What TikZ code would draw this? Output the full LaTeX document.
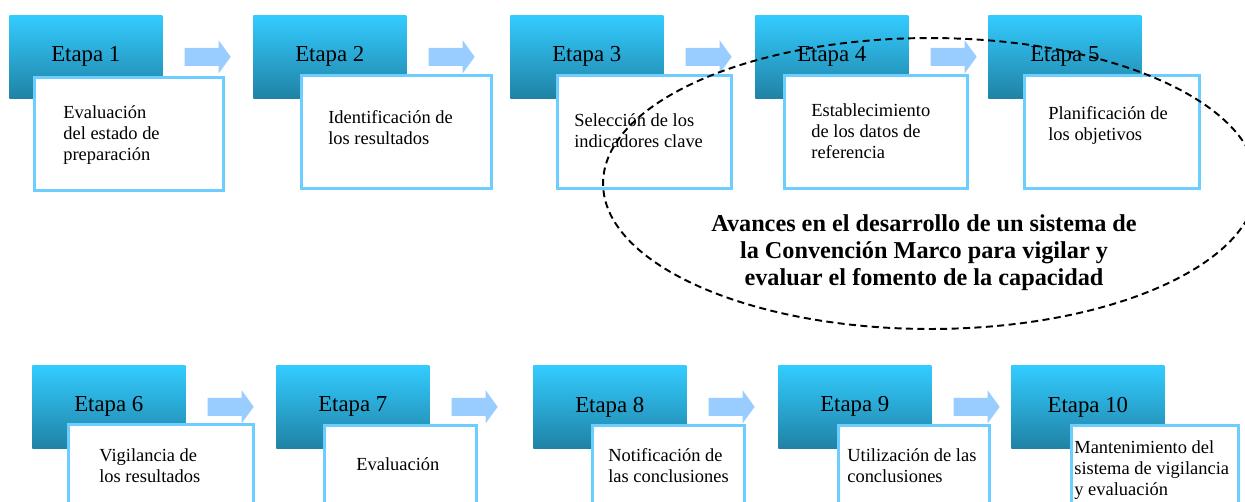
\documentclass[tikz,border=0pt]{standalone}
\usepackage{fontspec}
\setmainfont{Liberation Serif}
\usepackage{tikz}
\usetikzlibrary{positioning}
\usetikzlibrary{shapes.geometric}
\definecolor{cielo}{RGB}{51,204,255}
\definecolor{petroleo}{RGB}{32,130,165}
\definecolor{borde}{RGB}{110,205,255}
\definecolor{flechaazul}{RGB}{153,204,255}
\tikzset{etapa/.style = {anchor = north west, top color = cielo, bottom color = petroleo, minimum width = 3.06cm, minimum height = 1.66cm, inner sep = 0, font = \fontsize{13}{15}\selectfont}}
\tikzset{caja/.style = {anchor = north west, draw = borde, line width = 1.5pt, fill = white, minimum height = 2.26cm, inner sep = 0}}
\tikzset{texto/.style = {anchor = north west, align = left, inner sep = 0, font = \fontsize{10.5}{12.1}\selectfont}}
\tikzset{flecha/.pic = {\fill[flechaazul] (0, -9) -- (34, -9) -- (34, -16.5) -- (46, 0) -- (34, 16.5) -- (34, 9) -- (0, 9) -- cycle;}}

\begin{document}
\begin{tikzpicture}[x = 0.02cm, y = -0.02cm]
      \useasboundingbox (0, 0) rectangle (1245, 501);

      % fila de arriba
      \node[etapa] (e1) at (9, 15) {Etapa 1};
      \node[etapa] (e2) at (253, 15) {Etapa 2};
      \node[etapa] (e3) at (510, 15) {Etapa 3};
      \node[etapa] (e4) at (755, 15) {Etapa 4};
      \node[etapa] (e5) at (988, 15) {Etapa 5};

      \node[caja, minimum width = 3.78cm] (c1) at (33, 76) {};
      \node[caja, minimum width = 3.80cm] (c2) at (300, 74) {};
      \node[caja, minimum width = 3.48cm] (c3) at (556, 74) {};
      \node[caja, minimum width = 3.66cm] (c4) at (783, 74) {};
      \node[caja, minimum width = 3.50cm] (c5) at (1023, 74) {};

      \node[texto] (t1) at (63, 105) {Evaluación\\del estado de\\preparación};
      \node[texto] (t2) at (328, 110) {Identificación de\\los resultados};
      \node[texto] (t3) at (574, 113) {Selección de los\\indicadores clave};
      \node[texto] (t4) at (811, 103) {Establecimiento\\de los datos de\\referencia};
      \node[texto] (t5) at (1048, 106) {Planificación de\\los objetivos};

      % fila de abajo
      \node[etapa] (e6) at (32, 365) {Etapa 6};
      \node[etapa] (e7) at (276, 365) {Etapa 7};
      \node[etapa] (e8) at (533, 365) {Etapa 8};
      \node[etapa] (e9) at (778, 365) {Etapa 9};
      \node[etapa] (e10) at (1011, 365) {Etapa 10};

      \node[caja, minimum width = 3.70cm] (c6) at (67, 423) {};
      \node[caja, minimum width = 3.04cm] (c7) at (323, 424) {};
      \node[caja, minimum width = 3.04cm] (c8) at (591, 424) {};
      \node[caja, minimum width = 3.02cm] (c9) at (837, 424) {};
      \node[caja, minimum width = 3.34cm] (c10) at (1070, 424) {};

      \node[texto] (t6) at (99, 448) {Vigilancia de\\los resultados};
      \node[texto] (t7) at (356, 457) {Evaluación};
      \node[texto] (t8) at (608, 448) {Notificación de\\las conclusiones};
      \node[texto] (t9) at (847, 448) {Utilización de las\\conclusiones};
      \node[texto] (t10) at (1074, 440) {Mantenimiento del\\sistema de vigilancia\\y evaluación};

      \foreach \i in {1, 2, 3, 4, 6, 7, 8, 9}
        \pic at ([xshift = 0.44cm] e\i.east) {flecha};

      % elipse
      \node[draw, ellipse, line width = 1.1pt, dash pattern = on 4pt off 2.5pt, minimum width = 13.08cm, minimum height = 5.82cm, inner sep = 0] (marco) at (930, 183.5) {};
      \node[align = center, inner sep = 0, font = \bfseries\fontsize{13.8}{15.3}\selectfont] (avances) at (924, 253) {Avances en el desarrollo de un sistema de\\la Convención Marco para vigilar y\\evaluar el fomento de la capacidad};
    \end{tikzpicture}
\end{document}
